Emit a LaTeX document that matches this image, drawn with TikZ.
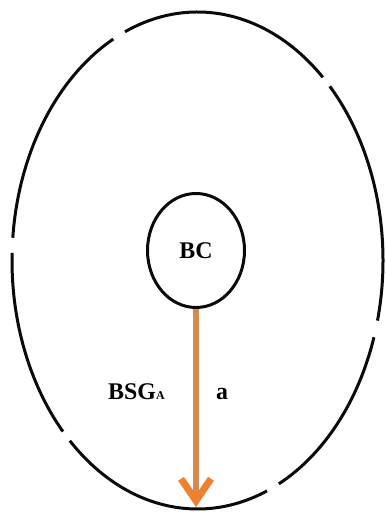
\documentclass[tikz,border=0pt]{standalone}
\usepackage{fontspec}
\setmainfont{Liberation Serif}
\usepackage{xcolor}
\usepackage{tikz}
\usetikzlibrary{arrows.meta,positioning,shapes.geometric}
\definecolor{rimc}{HTML}{0A0A0A}
\definecolor{shaftc}{HTML}{D78A4C}
\definecolor{tipc}{HTML}{EE8130}
\tikzset{
  rim/.style={draw=rimc,line width=3bp},
  cell/.style={ellipse,draw=rimc,line width=3bp,minimum width=97bp,minimum height=114bp,inner sep=0pt,font=\fontsize{24}{28}\selectfont\bfseries},
  ar/.style={-{Straight Barb[length=22bp,width=30bp,line width=7bp,color=tipc]},line width=6.5bp,shaftc},
  lbl/.style={font=\fontsize{24}{28}\selectfont\bfseries,inner sep=0pt}
}
\begin{document}
\begin{tikzpicture}[x=1bp,y=1bp]
\useasboundingbox (0,0) rectangle (385,512);
% outer boundary, broken in six places
\foreach \a/\b in {-64/-18,-14/44.5,47.5/113,117/174.75,178.25/223.5,226.5/292}{
  \draw[rim] (197.5,251.5) ++(\a:185.5 and 248.5) arc[start angle=\a,end angle=\b,x radius=185.5,y radius=248.5];
}
\node[cell] (bc) at (196,261.5) {BC};
\coordinate (bot) at (bc.south |- 0,5);
\draw[ar] (bc.south) -- (bot);
\node[lbl,anchor=base west] (bsg) at (108,112) {BSG{\fontsize{12}{14}\selectfont A}};
\node[lbl,anchor=base west] (alab) at (216,112) {a};
\end{tikzpicture}
\end{document}
